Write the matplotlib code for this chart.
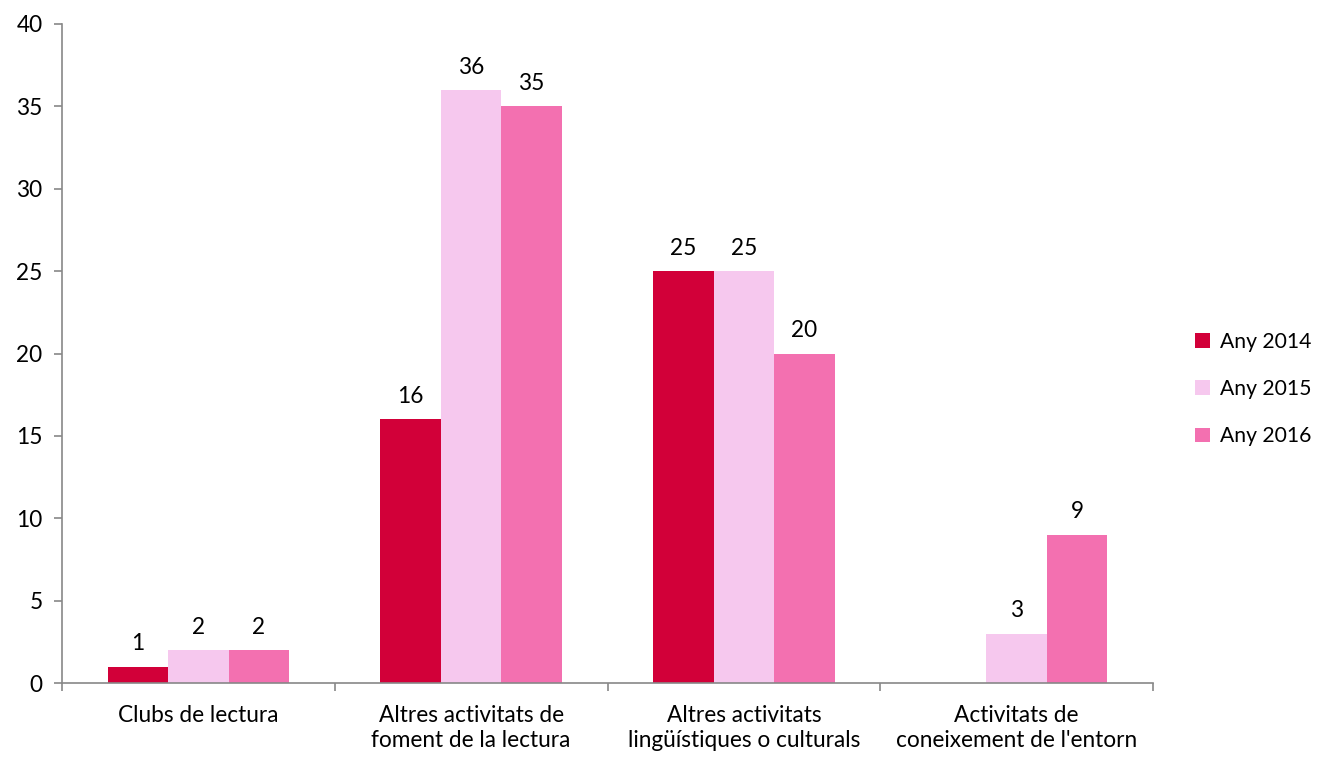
import matplotlib
matplotlib.use("Agg")
import matplotlib.pyplot as plt
import numpy as np

categories = ["Clubs de lectura", "Altres activitats de\nfoment de la lectura",
              "Altres activitats\nlingüístiques o culturals", "Activitats de\nconeixement de l'entorn"]
series_names = ["Any 2014", "Any 2015", "Any 2016"]
any_2014 = [1, 16, 25, None]
any_2015 = [2, 36, 25, 3]
any_2016 = [2, 35, 20, 9]
colors = ["#D20039", "#F6C8EE", "#F370B0"]
y_ticks = [0, 5, 10, 15, 20, 25, 30, 35, 40]

plt.rcParams['font.family'] = ['Lato', 'DejaVu Sans']
FS = 16.3

fig = plt.figure(figsize=(13.21, 7.58), dpi=100)
ax = fig.add_axes([62/1321, 1-683/758, (1153-62)/1321, (683-24)/758])

x = np.arange(len(categories))
w = 0.222
allseries = [any_2014, any_2015, any_2016]
for i, (vals, name, c) in enumerate(zip(allseries, series_names, colors)):
    xs = [xi + (i-1)*w for xi, v in zip(x, vals) if v is not None]
    vs = [v for v in vals if v is not None]
    bars = ax.bar(xs, vs, width=w, color=c, label=name, linewidth=0)
    for b, v in zip(bars, vs):
        ax.text(b.get_x()+b.get_width()/2, v + 0.75, str(v), ha='center', va='bottom', fontsize=FS)

ax.set_xlim(-0.5, len(categories)-0.5)
ax.set_ylim(0, 40)
ax.set_yticks(y_ticks)
ax.set_yticklabels([str(t) for t in y_ticks], fontsize=FS)
ax.set_xticks(np.arange(len(categories)+1)-0.5)
ax.set_xticklabels([])
ax.set_xticks(x, minor=True)
ax.set_xticklabels(categories, minor=True, fontsize=FS, linespacing=1.25)
ax.tick_params(axis='x', which='minor', length=0, pad=15.5)
ax.tick_params(axis='x', which='major', length=6, color='#888888', width=1.2)
ax.tick_params(axis='y', length=6, color='#888888', width=1.2, pad=8)
for s in ['top', 'right']:
    ax.spines[s].set_visible(False)
for s in ['left', 'bottom']:
    ax.spines[s].set_color('#888888')
    ax.spines[s].set_linewidth(1.2)

leg = fig.legend(loc='center left', bbox_to_anchor=(1189/1321, 1-389/758), frameon=False,
                 fontsize=15.2, handlelength=0.7, handleheight=0.7, handletextpad=0.45,
                 labelspacing=1.3, borderaxespad=0, borderpad=0.3)

fig.savefig("out.png", dpi=100)
